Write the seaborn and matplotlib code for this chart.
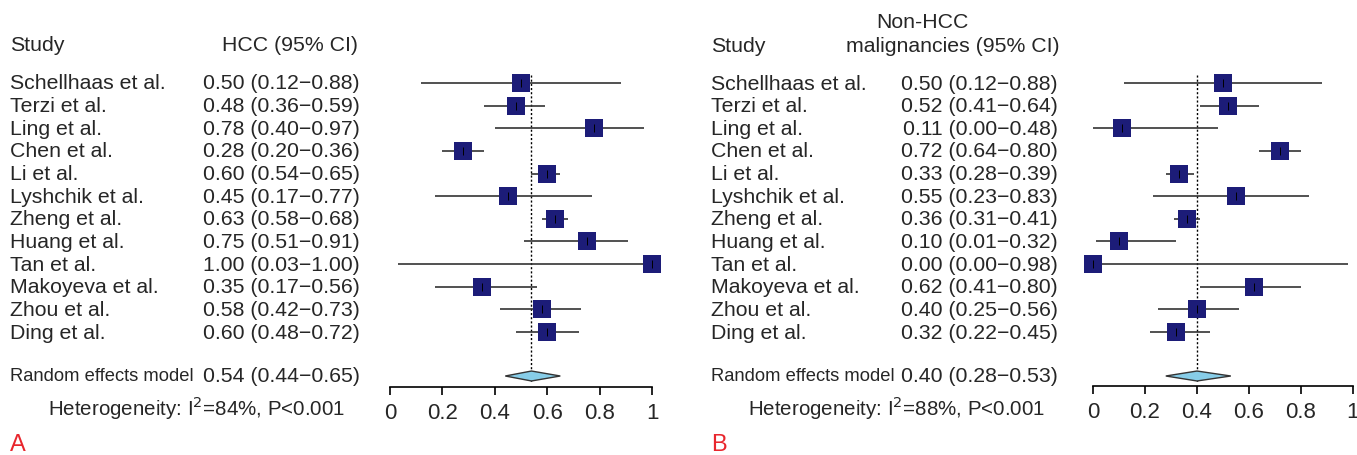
import numpy as np
import pandas as pd
import matplotlib
matplotlib.use("Agg")
import matplotlib.pyplot as plt
import matplotlib.transforms as mtransforms
from matplotlib import font_manager
import seaborn as sns

studies = ["Schellhaas et al.", "Terzi et al.", "Ling et al.", "Chen et al.", "Li et al.",
           "Lyshchik et al.", "Zheng et al.", "Huang et al.", "Tan et al.", "Makoyeva et al.",
           "Zhou et al.", "Ding et al."]

hcc_est = [0.50, 0.48, 0.78, 0.28, 0.60, 0.45, 0.63, 0.75, 1.00, 0.35, 0.58, 0.60]
hcc_lo = [0.12, 0.36, 0.40, 0.20, 0.54, 0.17, 0.58, 0.51, 0.03, 0.17, 0.42, 0.48]
hcc_hi = [0.88, 0.59, 0.97, 0.36, 0.65, 0.77, 0.68, 0.91, 1.00, 0.56, 0.73, 0.72]
hcc_pooled = (0.54, 0.44, 0.65)
hcc_i2 = 84

non_est = [0.50, 0.52, 0.11, 0.72, 0.33, 0.55, 0.36, 0.10, 0.00, 0.62, 0.40, 0.32]
non_lo = [0.12, 0.41, 0.00, 0.64, 0.28, 0.23, 0.31, 0.01, 0.00, 0.41, 0.25, 0.22]
non_hi = [0.88, 0.64, 0.48, 0.80, 0.39, 0.83, 0.41, 0.32, 0.98, 0.80, 0.56, 0.45]
non_pooled = (0.40, 0.28, 0.53)
non_i2 = 88

xticks = [0, 0.2, 0.4, 0.6, 0.8, 1]

sns.set_theme(style="white")
installed = {f.name for f in font_manager.fontManager.ttflist}
narrow = "Liberation Sans Narrow" if "Liberation Sans Narrow" in installed else "Liberation Sans"
plt.rcParams["font.family"] = [narrow, "DejaVu Sans"]

W, H = 1357, 456
fig = plt.figure(figsize=(W / 100, H / 100), dpi=100)

ROW0, STEP = 84, 22.64  # pixel y of first row and row spacing
FS = 15.3


def py(pix):
    # pixel y from top -> row units
    return (pix - ROW0) / STEP


def forest(ax_left, ax_right, axis_pix, txt):
    ax = fig.add_axes([ax_left / W, (H - axis_pix) / H,
                       (ax_right - ax_left) / W, (axis_pix - 10) / H])
    est, lo, hi, pooled, i2, head, x0, xval, xhet = txt
    df = pd.DataFrame({"study": studies, "est": est, "lo": lo, "hi": hi,
                       "row": np.arange(len(studies))})
    ax.vlines(pooled[0], py(76), py(axis_pix - 4), colors="black", linestyles=(0, (1.5, 1.5)), lw=1)
    ax.hlines(df["row"], df["lo"], df["hi"], colors="#333333", lw=1.2, clip_on=False)
    sns.scatterplot(data=df, x="est", y="row", marker="s", s=150, color="#1c1c78",
                    edgecolor="#1c1c78", linewidth=0, ax=ax, clip_on=False, zorder=3)
    ax.scatter(df["est"], df["row"], marker="|", s=30, color="black", linewidths=0.7,
               zorder=4, clip_on=False)
    yr = py(377)
    dh = 0.22
    ax.fill([pooled[1], pooled[0], pooled[2], pooled[0]], [yr, yr - dh, yr, yr + dh],
            facecolor="#87cde8", edgecolor="#333333", lw=1, zorder=3)
    ax.set_xlim(0, 1)
    ax.set_ylim(py(axis_pix), py(10))
    ax.set_xticks(xticks)
    ax.set_xticklabels([f"{t:g}" for t in xticks], fontsize=16)
    ax.set_yticks([])
    ax.set_xlabel("")
    ax.set_ylabel("")
    for s in ["top", "right", "left"]:
        ax.spines[s].set_visible(False)
    ax.spines["bottom"].set_color("black")
    ax.spines["bottom"].set_linewidth(1.2)
    ax.tick_params(axis="x", direction="out", length=6, width=1.2, color="black", pad=5,
                   bottom=True)

    tr = mtransforms.blended_transform_factory(fig.transFigure, ax.transData)
    ax.text(x0 / W, py(46), "Study", transform=tr, fontsize=FS, va="center", ha="left")
    for line, yy, xx, ha in head:
        ax.text(xx / W, py(yy), line, transform=tr, fontsize=FS, va="center", ha=ha)
    for i, r in df.iterrows():
        ax.text(x0 / W, r["row"], r["study"], transform=tr, fontsize=FS, va="center")
        ax.text(xval / W, r["row"], f"{r['est']:.2f} ({r['lo']:.2f}\u2212{r['hi']:.2f})",
                transform=tr, fontsize=FS, va="center", ha="right")
    ax.text(x0 / W, yr, "Random effects model", transform=tr, fontsize=13.2, va="center")
    ax.text(xval / W, yr, f"{pooled[0]:.2f} ({pooled[1]:.2f}\u2212{pooled[2]:.2f})",
            transform=tr, fontsize=FS, va="center", ha="right")
    ax.text(xhet / W, py(408), f"Heterogeneity: I$^2$={i2}%, P<0.001", transform=tr,
            fontsize=14.8, va="center", ha="left")
    return ax


forest(390, 652, 388, (hcc_est, hcc_lo, hcc_hi, hcc_pooled, hcc_i2,
                       [("HCC (95% CI)", 46, 358, "right")], 10, 360, 48))
forest(1093, 1353, 387, (non_est, non_lo, non_hi, non_pooled, non_i2,
                         [("Non-HCC", 22, 922, "center"),
                          ("malignancies (95% CI)", 46, 1060, "right")], 711, 1058, 748))

fig.text(10 / W, 1 - 445 / H, "A", color="#e8262d", fontsize=17, va="center", ha="left")
fig.text(711 / W, 1 - 445 / H, "B", color="#e8262d", fontsize=17, va="center", ha="left")

fig.savefig("out.png", dpi=100)
